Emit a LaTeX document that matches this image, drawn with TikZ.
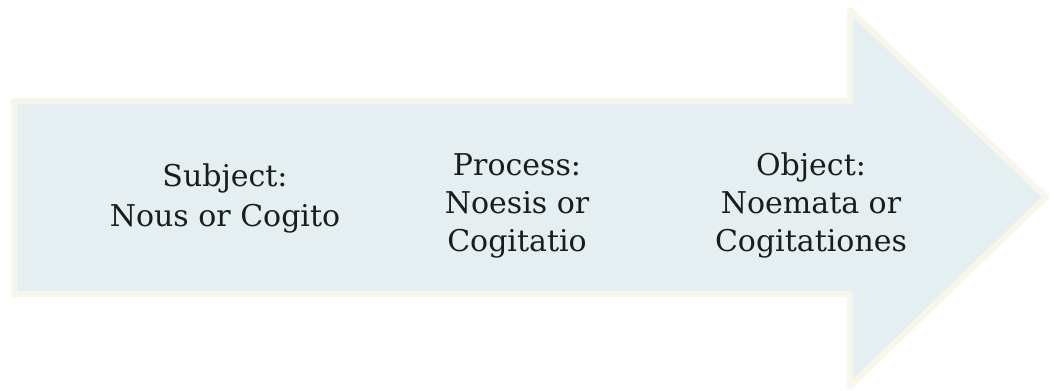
\documentclass[tikz,border=0pt]{standalone}
\usepackage{fontspec}
\setmainfont{DejaVu Serif}
\definecolor{arrowfill}{HTML}{E5EFF1}
\definecolor{arrowglow}{HTML}{F6F7EA}
\definecolor{txt}{HTML}{1C1C1C}
\begin{document}
\begin{tikzpicture}[x=1pt,y=-1pt,
  label/.style={align=center,text=txt,inner sep=0pt,font=\fontsize{30}{38}\selectfont}]
\useasboundingbox (0,0) rectangle (1053,391);
\fill[white] (0,0) rectangle (1053,391);
\draw[arrowglow,line width=6pt,fill=arrowfill,line join=round]
  (14,101) -- (850,101) -- (850,10) -- (1046,197) -- (850,386) -- (850,294) -- (14,294) -- cycle;
\node[label] (subj) at (225,198) {Subject:\\[2pt]Nous or Cogito};
\node[label] (proc) at (517,206) {Process:\\Noesis or\\Cogitatio};
\node[label] (obj) at (811,205) {Object:\\Noemata or\\Cogitationes};
\end{tikzpicture}
\end{document}
